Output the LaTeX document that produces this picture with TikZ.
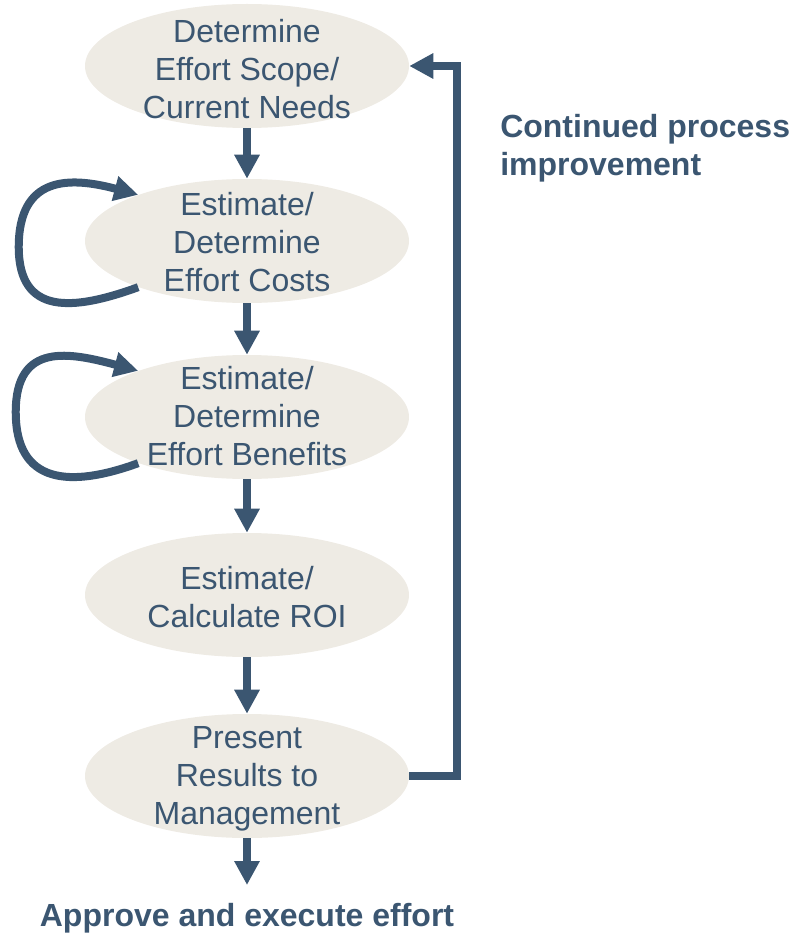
\documentclass[tikz,border=0pt]{standalone}
\usepackage{fontspec}
\setmainfont{Liberation Sans}
\usetikzlibrary{shapes.geometric, arrows.meta, calc}
\definecolor{slate}{HTML}{3B5671}
\definecolor{sand}{HTML}{EEEBE4}

\begin{document}
\begin{tikzpicture}[x=0.75pt, y=-0.75pt,
  stage/.style={ellipse, fill=sand, minimum width=243pt, minimum height=93pt, inner sep=0pt},
  stagetext/.style={align=center, text=slate, inner sep=0pt, font=\fontsize{24pt}{28.5pt}\selectfont},
  flow/.style={draw=slate, line width=6pt, -{Triangle[width=18pt, length=18pt]}},
  note/.style={text=slate, inner sep=0pt, font=\fontsize{24pt}{28.5pt}\selectfont\bfseries}]
\useasboundingbox (0,0) rectangle (794,934);

% stages
\node[stage] (e1) at (247,66) {};
\node[stagetext] (t1) at (247,69) {Determine\\Effort Scope/\\Current Needs};
\node[stage] (e2) at (247,241) {};
\node[stagetext] (t2) at (247,242) {Estimate/\\Determine\\Effort Costs};
\node[stage] (e3) at (247,417) {};
\node[stagetext] (t3) at (247,416) {Estimate/\\Determine\\Effort Benefits};
\node[stage] (e4) at (247,595) {};
\node[stagetext] (t4) at (247,597) {Estimate/\\Calculate ROI};
\node[stage] (e5) at (247,776) {};
\node[stagetext] (t5) at (247,779) {Present\\Results to\\Management};

% main flow
\draw[flow] (e1) -- (e2);
\draw[flow] (e2) -- (e3);
\draw[flow] (e3) -- (e4);
\draw[flow] (e4) -- (e5);
\coordinate (done) at (247,885);
\draw[flow] (e5) -- (done);

% rework loops
\draw[flow] (e2.203) to[out=200, in=-90, looseness=1.4] ($(e2.west)+(-66,6)$)
  to[out=90, in=165, looseness=1.4] (e2.157);
\draw[flow] (e3.203) to[out=200, in=-90, looseness=1.4] ($(e3.west)+(-69,-5)$)
  to[out=90, in=165, looseness=1.4] (e3.157);

% feedback
\draw[flow] (e5.east) -- ++(48,0) |- (e1.east);
\node[note, anchor=north west, align=left] (cpi) at (500,114) {Continued process\\improvement};
\node[note, anchor=base] (approve) at (247,926) {Approve and execute effort};
\end{tikzpicture}
\end{document}
